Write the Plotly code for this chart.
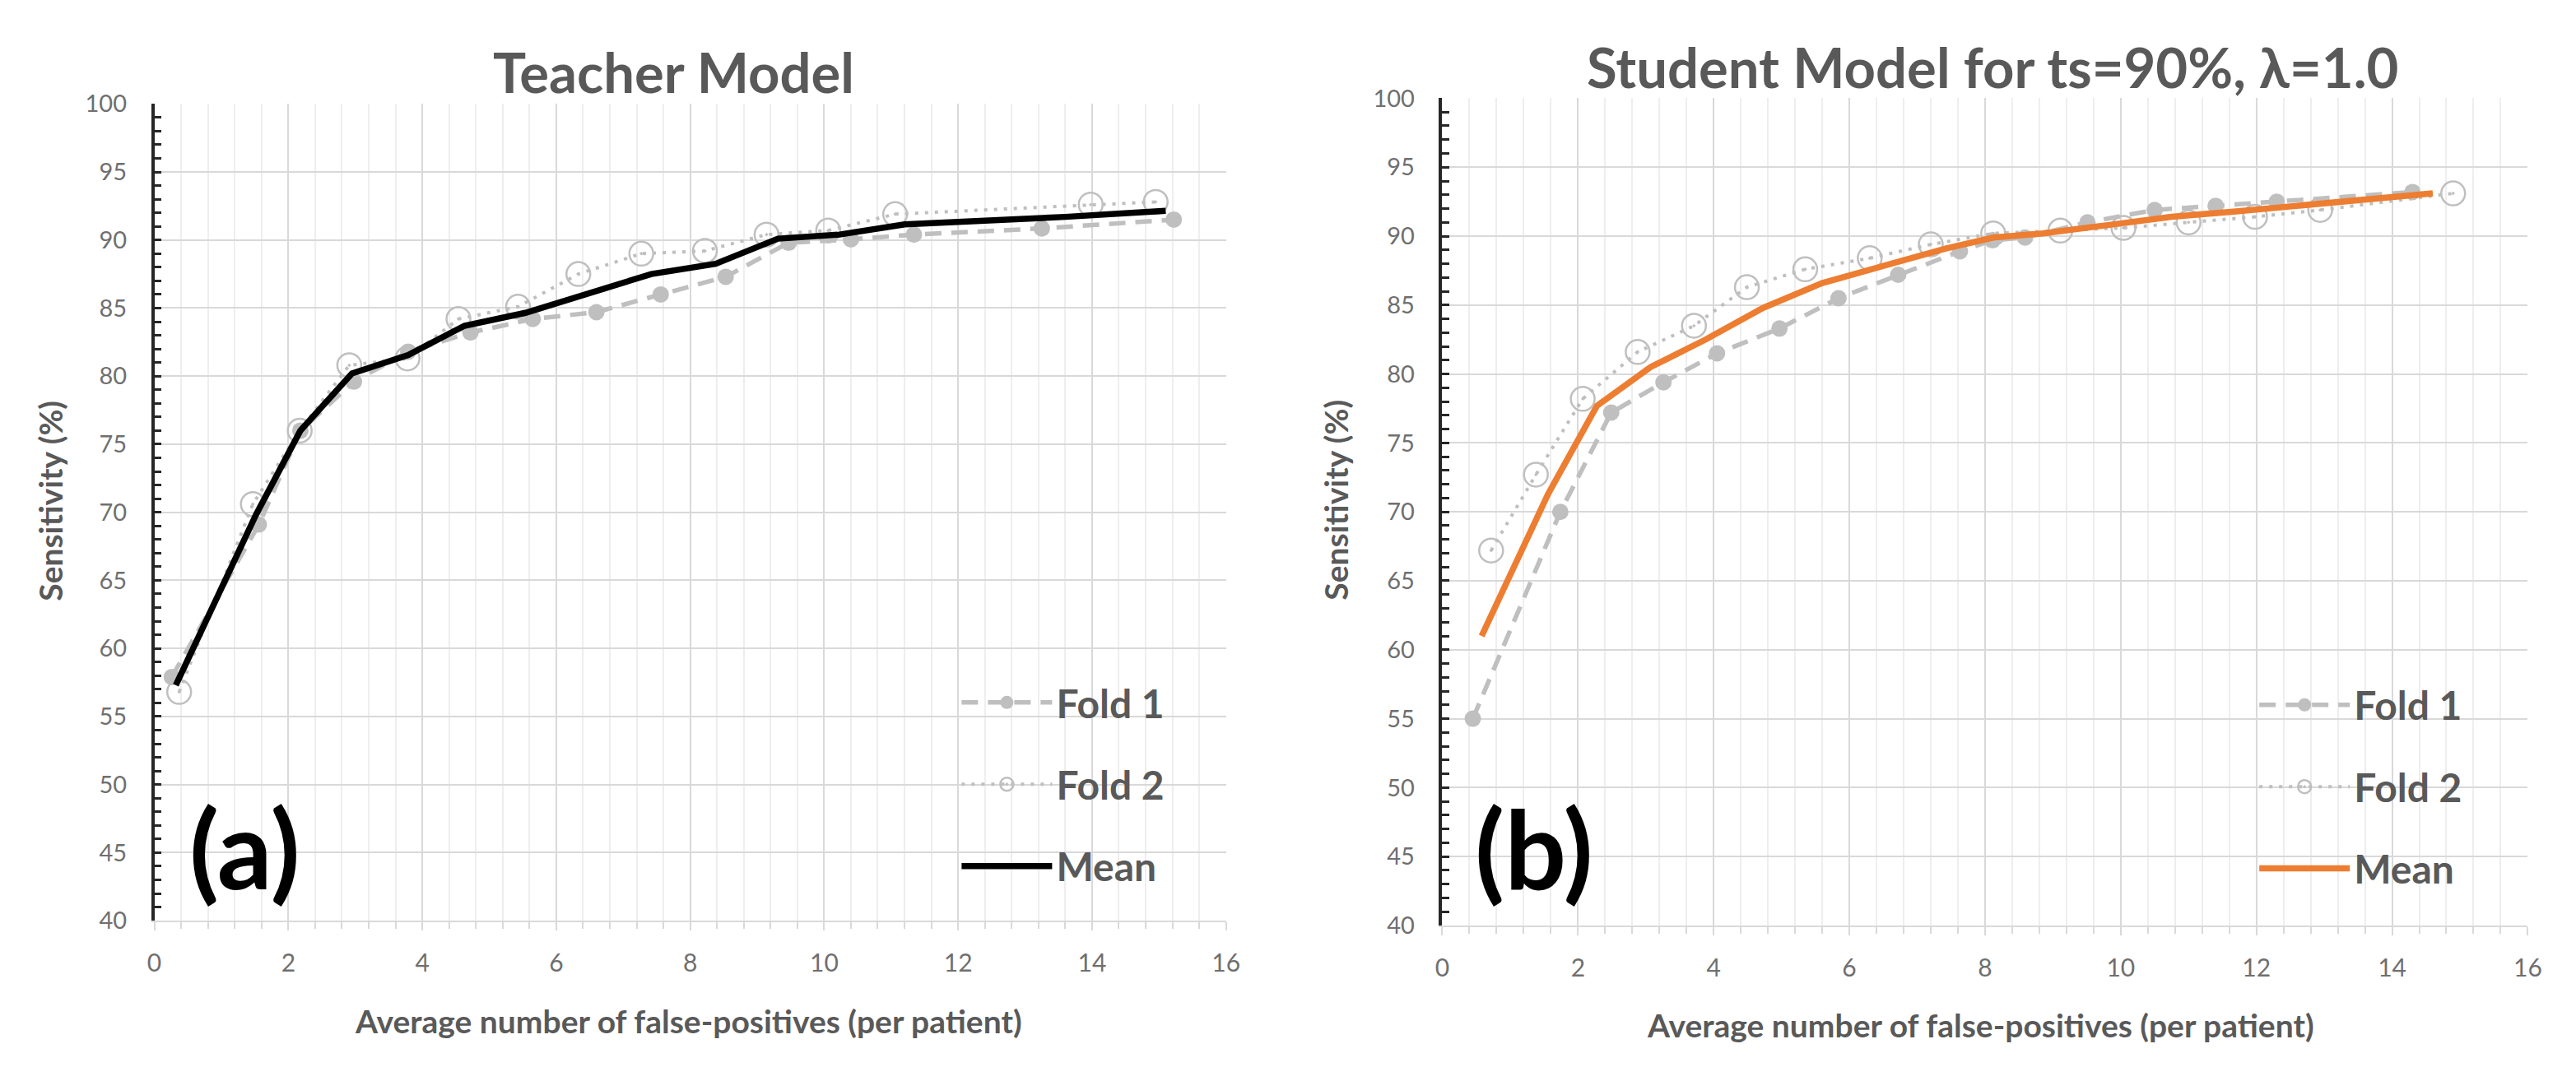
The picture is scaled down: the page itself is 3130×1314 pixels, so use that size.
import plotly.graph_objects as go

# ---------------- data ----------------
teacher_fold1_x = [0.26, 1.56, 2.18, 2.98, 3.79, 4.72, 5.65, 6.60, 7.56, 8.53, 9.47, 10.40, 11.34, 13.25, 15.22]
teacher_fold1_y = [57.9, 69.1, 76.0, 79.6, 81.8, 83.2, 84.2, 84.7, 86.0, 87.3, 89.8, 90.05, 90.4, 90.85, 91.5]
teacher_fold2_x = [0.37, 1.47, 2.17, 2.91, 3.78, 4.54, 5.43, 6.33, 7.27, 8.22, 9.14, 10.06, 11.06, 13.98, 14.95]
teacher_fold2_y = [56.8, 70.6, 76.0, 80.8, 81.3, 84.2, 85.1, 87.5, 89.0, 89.2, 90.4, 90.7, 91.9, 92.6, 92.8]
teacher_mean_x = [0.32, 1.52, 2.18, 2.95, 3.79, 4.63, 5.54, 6.47, 7.42, 8.38, 9.31, 10.23, 11.20, 13.60, 15.10]
teacher_mean_y = [57.3, 69.85, 76.0, 80.2, 81.55, 83.7, 84.65, 86.1, 87.5, 88.25, 90.1, 90.4, 91.15, 91.7, 92.15]

student_fold1_x = [0.45, 1.74, 2.49, 3.26, 4.05, 4.97, 5.84, 6.72, 7.63, 8.11, 8.59, 9.51, 10.50, 11.40, 12.30, 14.30]
student_fold1_y = [55.0, 70.0, 77.2, 79.4, 81.5, 83.3, 85.5, 87.2, 88.9, 89.7, 89.9, 91.0, 91.9, 92.2, 92.5, 93.2]
student_fold2_x = [0.72, 1.38, 2.07, 2.88, 3.71, 4.49, 5.35, 6.30, 7.20, 8.12, 9.11, 10.04, 11.00, 11.98, 12.94, 14.90]
student_fold2_y = [67.2, 72.7, 78.2, 81.6, 83.5, 86.3, 87.6, 88.4, 89.4, 90.2, 90.4, 90.6, 91.0, 91.4, 91.9, 93.1]
student_mean_x = [0.58, 1.56, 2.28, 3.07, 3.88, 4.73, 5.60, 6.51, 7.42, 8.12, 8.85, 9.81, 10.75, 11.70, 12.60, 14.60]
student_mean_y = [61.0, 71.3, 77.7, 80.5, 82.5, 84.8, 86.6, 87.8, 89.1, 89.9, 90.2, 90.8, 91.4, 91.8, 92.2, 93.1]

x_range = [0, 16]
y_range = [40, 100]
titles = ["Teacher Model", "Student Model for ts=90%, λ=1.0"]
panel_labels = ["(a)", "(b)"]
x_title = "Average number of false-positives (per patient)"
y_title = "Sensitivity (%)"
series_names = ["Fold 1", "Fold 2", "Mean"]

# ---------------- styling ----------------
W, H = 3130, 1314
FONT = "Lato"
GRAY = "#bfbfbf"
TXT = "#595959"
TICK = "#6f6f6f"


def px_x(p):
    return p / W


def px_y(p):
    return 1 - p / H


fig = go.Figure()

panels = [
    dict(f1x=teacher_fold1_x, f1y=teacher_fold1_y, f2x=teacher_fold2_x, f2y=teacher_fold2_y,
         mx=teacher_mean_x, my=teacher_mean_y, mcolor="#000000", xa="x", ya="y", leg="legend"),
    dict(f1x=student_fold1_x, f1y=student_fold1_y, f2x=student_fold2_x, f2y=student_fold2_y,
         mx=student_mean_x, my=student_mean_y, mcolor="#ed7d31", xa="x2", ya="y2", leg="legend2"),
]

for i, p in enumerate(panels):
    fig.add_trace(go.Scatter(
        x=p["f1x"], y=p["f1y"], name=series_names[0], mode="lines+markers",
        line=dict(color=GRAY, width=5.5, dash="20px,12px"),
        marker=dict(symbol="circle", size=20, color=GRAY),
        xaxis=p["xa"], yaxis=p["ya"], legend=p["leg"], legendgroup=f"g{i}a"))
    fig.add_trace(go.Scatter(
        x=p["f2x"], y=p["f2y"], name=series_names[1], mode="lines+markers",
        line=dict(color=GRAY, width=4, dash="4px,8px"),
        marker=dict(symbol="circle-open-dot", size=29, color=GRAY, line=dict(width=2.5, color=GRAY)),
        xaxis=p["xa"], yaxis=p["ya"], legend=p["leg"], legendgroup=f"g{i}b"))
    fig.add_trace(go.Scatter(
        x=p["mx"], y=p["my"], name=series_names[2], mode="lines",
        line=dict(color=p["mcolor"], width=7.5),
        xaxis=p["xa"], yaxis=p["ya"], legend=p["leg"], legendgroup=f"g{i}c"))

plot_boxes = [
    dict(l=172, r=1485, t=102, b=1122),
    dict(l=1750, r=3080, t=95, b=1128),
]


def xaxis_cfg(box, anchor):
    return dict(
        domain=[px_x(box["l"]), px_x(box["r"])], anchor=anchor, range=x_range,
        dtick=2, tick0=0, showgrid=True, gridcolor="#d9d9d9", gridwidth=2,
        showline=True, linecolor="#d9d9d9", linewidth=2, zeroline=False,
        ticks="outside", ticklen=10, tickwidth=2, tickcolor="#d9d9d9",
        tickfont=dict(family=FONT, size=30, color=TICK), ticklabelstandoff=14,
        minor=dict(dtick=0.4, tick0=0, showgrid=True, gridcolor="#eeeeee", gridwidth=1.5,
                   ticks="outside", ticklen=8, tickwidth=1.5, tickcolor="#d9d9d9"),
        fixedrange=True)


def yaxis_cfg(box, anchor):
    return dict(
        domain=[px_y(box["b"]), px_y(box["t"])], anchor=anchor, range=y_range,
        dtick=5, tick0=0, showgrid=True, gridcolor="#d9d9d9", gridwidth=2,
        showline=True, linecolor="#262626", linewidth=3.5, zeroline=False,
        ticks="inside", ticklen=9, tickwidth=3, tickcolor="#262626",
        tickfont=dict(family=FONT, size=29, color=TICK), ticklabelstandoff=24,
        minor=dict(dtick=1, tick0=0, showgrid=False,
                   ticks="inside", ticklen=9, tickwidth=3, tickcolor="#262626"),
        fixedrange=True)


legend_common = dict(
    xanchor="left", yanchor="middle", bgcolor="rgba(0,0,0,0)",
    font=dict(family=FONT, size=48, color=TXT, weight=700),
    itemwidth=110, tracegroupgap=34, traceorder="grouped", itemclick=False)

fig.update_layout(
    width=W, height=H, margin=dict(l=0, r=0, t=0, b=0, pad=0),
    paper_bgcolor="white", plot_bgcolor="white",
    font=dict(family=FONT, color=TXT),
    showlegend=True,
    xaxis=xaxis_cfg(plot_boxes[0], "y"),
    yaxis=yaxis_cfg(plot_boxes[0], "x"),
    xaxis2=xaxis_cfg(plot_boxes[1], "y2"),
    yaxis2=yaxis_cfg(plot_boxes[1], "x2"),
    legend=dict(x=px_x(1156), y=px_y(952), **legend_common),
    legend2=dict(x=px_x(2746), y=px_y(955), **legend_common),
)

annotations = []
title_pos = [(808, 62), (2424, 55)]
for (tx, ty), t in zip(title_pos, titles):
    annotations.append(dict(text=t, x=px_x(tx), y=px_y(ty), xref="paper", yref="paper",
                            xanchor="center", yanchor="middle", showarrow=False,
                            font=dict(family=FONT, size=67, color=TXT, weight=700)))
xt_pos = [(826, 1247), (2410, 1252)]
for (tx, ty) in xt_pos:
    annotations.append(dict(text=x_title, x=px_x(tx), y=px_y(ty), xref="paper", yref="paper",
                            xanchor="center", yanchor="middle", showarrow=False,
                            font=dict(family=FONT, size=39, color=TXT, weight=700)))
yt_pos = [(44, 598), (1620, 597)]
for (tx, ty) in yt_pos:
    annotations.append(dict(text=y_title, x=px_x(tx), y=px_y(ty), xref="paper", yref="paper",
                            xanchor="center", yanchor="middle", showarrow=False, textangle=-90,
                            font=dict(family=FONT, size=39, color=TXT, weight=700)))
lab_pos = [(283, 1030), (1862, 1030)]
for (tx, ty), t in zip(lab_pos, panel_labels):
    annotations.append(dict(text=t, x=px_x(tx), y=px_y(ty), xref="paper", yref="paper",
                            xanchor="center", yanchor="middle", showarrow=False,
                            font=dict(family=FONT, size=132, color="#000000", weight=700)))
fig.update_layout(annotations=annotations)

fig.write_html("out.html")
